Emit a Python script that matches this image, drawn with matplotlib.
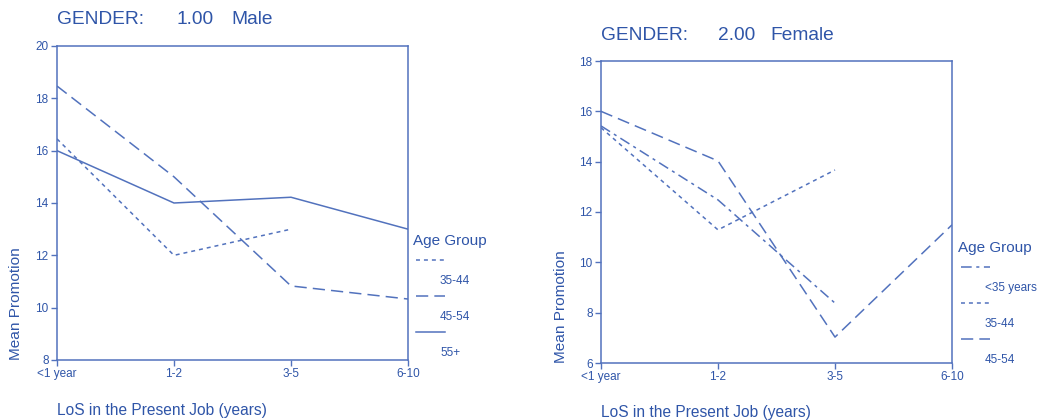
import matplotlib.pyplot as plt
from matplotlib.lines import Line2D

plt.rcParams['font.family'] = ['Liberation Sans', 'DejaVu Sans']

TEXT = '#2f55a8'
LINE = '#5272bd'

los = ['<1 year', '1-2', '3-5', '6-10']

# mean promotion by length of service, male respondents
male_35_44 = [16.45, 12.0, 13.0, None]
male_45_54 = [18.47, 15.0, 10.83, 10.33]
male_55 = [16.0, 14.0, 14.22, 13.0]

# female respondents
female_u35 = [15.42, 12.48, 8.38, None]
female_35_44 = [15.35, 11.29, 13.67, None]
female_45_54 = [16.0, 14.03, 7.03, 11.49]

dot = (0, (2.6, 2.6))
long_dash = (0, (8, 4))
dash_dot = (0, (7, 3, 2, 3))

male_series = [
    ('35-44', male_35_44, dot),
    ('45-54', male_45_54, long_dash),
    ('55+', male_55, '-'),
]
female_series = [
    ('<35 years', female_u35, dash_dot),
    ('35-44', female_35_44, dot),
    ('45-54', female_45_54, long_dash),
]

fig = plt.figure(figsize=(10.37, 4.2), dpi=100)
W, H = 1037, 420


def fx(px):
    return px / W


def fy(py):
    return 1 - py / H


def panel(rect, series, ylim, yticks, title_y, title_val, title_sex,
          val_x, sex_x, leg_x, leg_y, lab_x, ylab_x, xlab_y):
    x0, top, x1, bottom = rect
    ax = fig.add_axes([fx(x0), fy(bottom), fx(x1 - x0), fy(top) - fy(bottom)])
    xs = list(range(len(los)))
    for name, vals, ls in series:
        pts = [(x, v) for x, v in zip(xs, vals) if v is not None]
        ax.plot([p[0] for p in pts], [p[1] for p in pts], color=LINE,
                lw=1.1, linestyle=ls, dash_capstyle='butt')
    ax.set_xlim(0, 3)
    ax.set_ylim(*ylim)
    ax.set_xticks(xs)
    ax.set_xticklabels(los)
    ax.set_yticks(yticks)
    ax.tick_params(colors=LINE, labelcolor=TEXT, labelsize=8.5, length=4,
                   width=1, pad=2)
    for s in ax.spines.values():
        s.set_color(LINE)
        s.set_linewidth(1.1)

    fig.text(fx(x0), fy(title_y), 'GENDER:', fontsize=13.8, color=TEXT,
             va='center')
    fig.text(fx(val_x), fy(title_y), title_val, fontsize=13.8, color=TEXT,
             va='center')
    fig.text(fx(sex_x), fy(title_y), title_sex, fontsize=13.8, color=TEXT,
             va='center')
    fig.text(fx(ylab_x), fy(bottom), 'Mean Promotion', rotation=90,
             fontsize=11.1, color=TEXT, ha='center', va='bottom')
    fig.text(fx(x0), fy(xlab_y), 'LoS in the Present Job (years)',
             fontsize=11.2, color=TEXT, va='center')

    # age group key: sample line above each label
    fig.text(fx(leg_x - 3), fy(leg_y), 'Age Group', fontsize=11,
             color=TEXT, va='center')
    for i, (name, vals, ls) in enumerate(series):
        ly = leg_y + 19 + i * 36
        fig.add_artist(Line2D([fx(leg_x), fx(leg_x + 29)], [fy(ly), fy(ly)],
                              color=LINE, lw=1.1, linestyle=ls,
                              dash_capstyle='butt'))
        fig.text(fx(lab_x), fy(ly + 21), name, fontsize=8.5, color=TEXT,
                 va='center')
    return ax


panel((57, 46, 408, 360), male_series, (8, 20), [8, 10, 12, 14, 16, 18, 20],
      20, '1.00', 'Male', 177, 231, 416, 241, 440, 16, 410)
panel((601, 61, 952, 363), female_series, (6, 18), [6, 8, 10, 12, 14, 16, 18],
      35, '2.00', 'Female', 718, 770, 961, 248, 985, 561, 412)

fig.savefig('out.png', dpi=100)
